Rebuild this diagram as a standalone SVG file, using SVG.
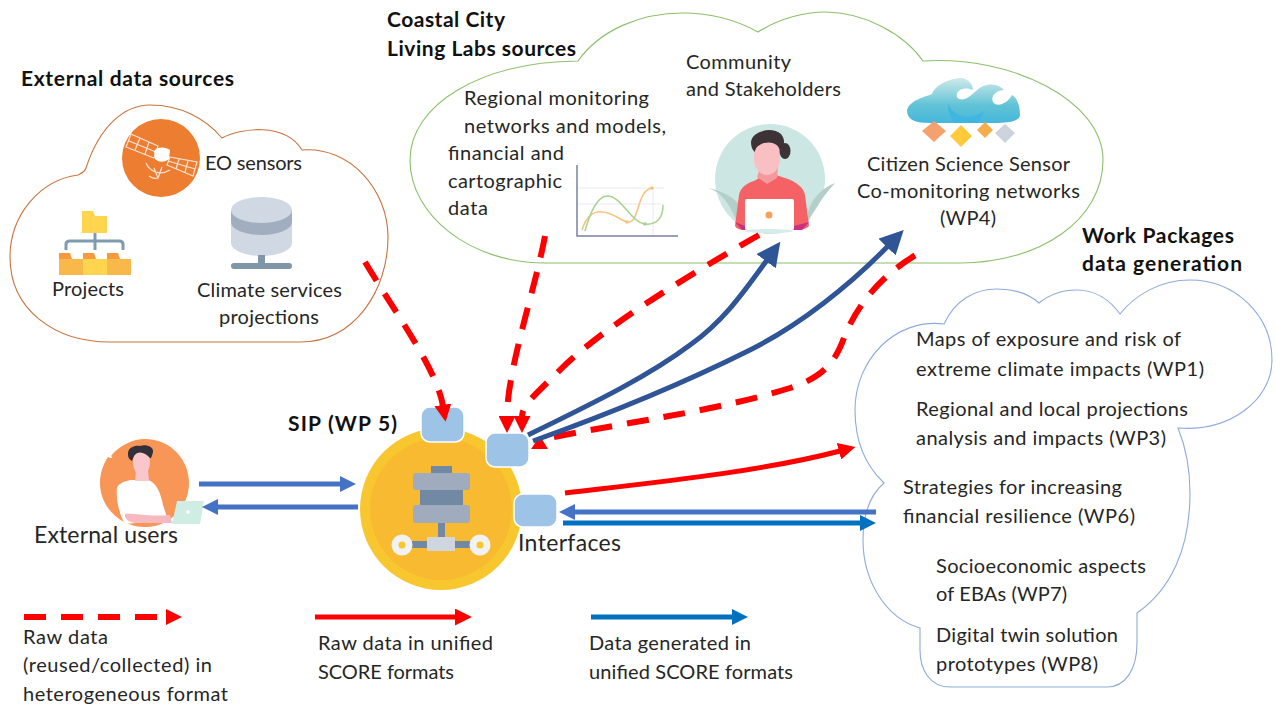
<svg xmlns="http://www.w3.org/2000/svg" width="1276" height="705" viewBox="0 0 1276 705">
<style>
text{font-family:"Lato","Liberation Sans",sans-serif;font-size:20px;fill:#262626}
.b{font-weight:700;fill:#111;font-size:21px}
.l{font-size:23px}
.c{fill:#fff;stroke-width:1.1}
.dash{fill:none;stroke:#f00;stroke-width:6;stroke-dasharray:22 15}
.dk{fill:none;stroke:#2f5597;stroke-width:5}
.bl{fill:none;stroke:#4472c4;stroke-width:5}
.bd{fill:none;stroke:#0070c0;stroke-width:5}
.rd{fill:none;stroke:#f00;stroke-width:5}
.if{fill:#9dc3e6;stroke:#fff;stroke-width:1.5}
</style>
<defs>
<linearGradient id="wave" x1="0" y1="0" x2="0" y2="1"><stop offset="0" stop-color="#cfeaea"/><stop offset="0.6" stop-color="#62c3d6"/><stop offset="1" stop-color="#45b7dc"/></linearGradient>
<marker id="mr" markerUnits="userSpaceOnUse" markerWidth="17" markerHeight="17" viewBox="0 0 16 16" refX="1" refY="8" orient="auto"><path d="M0,0L16,8L0,16Z" fill="#f00"/></marker>
<marker id="mk" markerUnits="userSpaceOnUse" markerWidth="24" markerHeight="24" viewBox="0 0 16 16" refX="1" refY="8" orient="auto"><path d="M0,0L16,8L0,16Z" fill="#2f5597"/></marker>
<marker id="mb" markerUnits="userSpaceOnUse" markerWidth="16" markerHeight="16" viewBox="0 0 16 16" refX="1" refY="8" orient="auto"><path d="M0,0L16,8L0,16Z" fill="#4472c4"/></marker>
<marker id="md" markerUnits="userSpaceOnUse" markerWidth="16" markerHeight="16" viewBox="0 0 16 16" refX="1" refY="8" orient="auto"><path d="M0,0L16,8L0,16Z" fill="#0070c0"/></marker>
</defs>

<g id="external-data-sources">
<path class="c" stroke="#c9733d" d="M86,168C100,125 125,105 150,105C180,105 205,118 222,138C240,128 285,122 302,150C350,146 388,190 388,237C388,290 355,342 300,342L110,342C55,342 10,310 10,257C10,215 40,180 78,175C82,173 85,172 86,168Z"/>
<text class="b" x="21" y="86" textLength="213">External data sources</text>
<circle cx="161" cy="158" r="39" fill="#ed7d31"/>
<g fill="none" stroke="#fbe5d6" stroke-width="1.200">
<path d="M131,134L158,146L154,158L126,147ZM140,138L135,150M149,142L145,154M129,141L156,152"/>
<path d="M170,157L197,162L193,176L167,165ZM179,159L176,169M188,161L185,172M168,161L195,169"/>
<path d="M146,163C150,172 160,176 170,170M154,168L158,178L162,167M149,176C152,178 155,179 157,178"/>
</g>
<path d="M154,151C158,146 166,147 170,150L169,159C164,163 158,162 155,159Z" fill="#fff"/>
<text x="205" y="170" textLength="97">EO sensors</text>
<g>
<path d="M82,211H93L95,216H107V233H82Z" fill="#ffd54f"/>
<path d="M95,233V250M66,250V244Q66,241 70,241H119Q123,241 123,244V250" fill="none" stroke="#7f9bb0" stroke-width="3"/>
<rect x="59" y="259" width="24" height="16" fill="#f9b84a"/><rect x="83" y="259" width="24" height="16" fill="#ffd54f"/><rect x="107" y="259" width="24" height="16" fill="#f9b84a"/>
<path d="M59,253H70L72,259H59ZM83,253H94L96,259H83ZM107,253H118L120,259H107Z" fill="#f79a3e"/>
</g>
<text x="52" y="296" textLength="72">Projects</text>
<g>
<path d="M231,210V243A30.500,13 0 0 0 292,243V210Z" fill="#cfd8e3"/>
<path d="M231,210V222A30.500,13 0 0 0 292,222V210Z" fill="#a0aec0"/>
<ellipse cx="261.500" cy="210" rx="30.500" ry="13" fill="#cfd8e3"/>
<rect x="258" y="255" width="7" height="10" fill="#7f95a8"/><rect x="231" y="263" width="61" height="6" rx="3" fill="#7f95a8"/>
</g>
<text x="197" y="297" textLength="145">Climate services</text>
<text x="219" y="324" textLength="100">projections</text>
</g>

<g id="living-labs">
<path class="c" stroke="#8cc06c" d="M578,61C600,30 640,13 683,13C715,13 740,22 758,32C780,18 805,12 825,12C865,12 905,35 923,61C1010,55 1103,100 1103,160C1103,220 1040,263 960,263L545,263C470,263 410,215 410,160C410,105 480,62 578,61Z"/>
<text class="b" x="387" y="27" textLength="118">Coastal City</text>
<text class="b" x="387" y="56" textLength="189">Living Labs sources</text>
<text x="686" y="69" textLength="105">Community</text>
<text x="686" y="96" textLength="155">and Stakeholders</text>
<text x="464" y="105" textLength="185">Regional monitoring</text>
<text x="464" y="133" textLength="202">networks and models,</text>
<text x="448" y="160" textLength="116">financial and</text>
<text x="448" y="188" textLength="114">cartographic</text>
<text x="448" y="215" textLength="40">data</text>
<g fill="none">
<path d="M577,188H664M577,204H664M653,188V236" stroke="#e8e8f4" stroke-width="1"/>
<path d="M577,165V236H678" stroke="#7b7fa8" stroke-width="1.500"/>
<path d="M582,230C586,216 594,211 602,212C612,212 620,220 627,222C640,225 636,190 652,188" stroke="#f7c27c" stroke-width="1.500"/>
<path d="M585,231C590,212 598,196 607,196C622,196 630,222 645,224C655,225 663,220 663,205" stroke="#a9d18e" stroke-width="1.500"/>
<circle cx="652" cy="188" r="1.800" fill="#f7c27c"/><circle cx="627" cy="222" r="1.800" fill="#f7c27c"/><circle cx="645" cy="224" r="1.800" fill="#a9d18e"/>
</g>
<g>
<circle cx="770" cy="179" r="55" fill="#cce6e3"/>
<path d="M708,188C722,192 730,205 737,222L740,205C732,196 720,190 708,188ZM835,183C822,188 812,198 808,212L808,222C815,208 825,194 835,183Z" fill="#b4cfc9"/>
<path d="M735,226L739,195C741,186 748,183 756,180L767,172L785,178C797,182 804,188 805,195L809,226Q806,230 795,230H745Q737,230 735,226Z" fill="#f46266"/>
<path d="M760,168H778L777,178L767,184L757,177Z" fill="#f49a9c"/>
<path d="M754,140H780V160C780,170 772,175 767,175C760,175 754,168 754,160Z" fill="#f9c0c3"/>
<path d="M751,142C752,131 772,126 781,134C784,138 785,142 783,146L780,150C778,144 772,141 764,143C758,145 755,148 755,152C752,150 751,146 751,142Z" fill="#3d3236"/>
<ellipse cx="785" cy="151" rx="5.500" ry="8" fill="#3d3236"/>
<path d="M735,222L745,226V230H742ZM809,222L794,226V230H802Z" fill="#c9317f"/>
<rect x="745" y="199" width="49" height="31" rx="2" fill="#fff"/>
<circle cx="769" cy="215" r="3.500" fill="#f4a15a"/>
<ellipse cx="769" cy="231" rx="24" ry="2" fill="#d5ece8"/>
</g>
<g>
<path d="M907,110C910,100 925,97 932,94C935,85 950,78 962,78C968,79 973,84 973,90C965,86 955,90 957,97C961,103 970,97 976,91C985,82 998,83 1004,90C997,90 990,96 993,102C997,108 1008,103 1012,95C1018,98 1020,108 1020,115C1020,122 1005,123 995,123H930C915,123 907,120 907,110Z" fill="url(#wave)"/>
<path d="M948,104C955,120 975,120 985,110L978,123H955C950,118 948,110 948,104Z" fill="#3fb6e0"/>
<path d="M934,121L946,131L934,142L922,131Z" fill="#f4a26d"/>
<path d="M961,125L972,136L961,147L950,136Z" fill="#ffc93c"/>
<path d="M985,122L993,130L985,138L977,130Z" fill="#f3ae4b"/>
<path d="M1005,124L1015,133L1005,143L995,133Z" fill="#cdd3dc"/>
</g>
<text x="867" y="171" textLength="203">Citizen Science Sensor</text>
<text x="857" y="198" textLength="223">Co-monitoring networks</text>
<text x="940" y="225" textLength="56">(WP4)</text>
</g>

<g id="work-packages">
<path class="c" stroke="#8faadc" d="M944,324C955,300 975,289 997,289C1015,289 1030,295 1039,303C1050,294 1062,290 1077,290C1095,290 1110,300 1120,314C1135,295 1160,280 1190,280C1235,280 1272,315 1272,360C1272,400 1230,432 1178,428C1187,450 1190,470 1190,493C1190,550 1170,590 1137,613L1137,643C1137,670 1125,687 1107,687H950C930,687 920,670 920,650V628C885,618 863,580 863,540C863,515 870,495 884,483C865,465 855,440 855,410C855,360 895,318 944,324Z"/>
<text class="b" x="1082" y="243" textLength="152">Work Packages</text>
<text class="b" x="1082" y="271" textLength="160">data generation</text>
<text x="916" y="346" textLength="265">Maps of exposure and risk of</text>
<text x="916" y="376" textLength="288">extreme climate impacts (WP1)</text>
<text x="916" y="416" textLength="272">Regional and local projections</text>
<text x="916" y="445" textLength="250">analysis and impacts (WP3)</text>
<text x="903" y="494" textLength="219">Strategies for increasing</text>
<text x="903" y="523" textLength="232">financial resilience (WP6)</text>
<text x="936" y="573" textLength="210">Socioeconomic aspects</text>
<text x="936" y="601" textLength="131">of EBAs (WP7)</text>
<text x="936" y="642" textLength="182">Digital twin solution</text>
<text x="936" y="671" textLength="162">prototypes (WP8)</text>
</g>

<g id="external-users">
<path d="M111,456C120,445 133,439 145,439C170,439 189,459 189,483C189,507 170,527 145,527C120,527 100,507 100,483C100,472 104,463 108,457C112,459 114,458 111,456Z" fill="#f79656"/>
<path d="M117,487C122,480 132,480 136,480H148C155,482 160,490 163,505L168,520L125,524C118,512 116,498 117,487Z" fill="#fff"/>
<path d="M136,470H148L149,481H135Z" fill="#f8c6cb"/>
<ellipse cx="141.500" cy="462" rx="8.500" ry="14" fill="#f8c6cb"/>
<path d="M128,455C127,447 136,445 140,446C145,444 154,446 153,452C152,456 151,459 150,458C145,452 138,450 134,456L132,461C130,460 128,458 128,455Z" fill="#33303a"/>
<path d="M125,514C132,513 150,517 170,515L172,523H135C128,522 124,518 125,514Z" fill="#f8b8c0"/>
<path d="M177,501H204L200,524H172Z" fill="#cfede2"/>
<circle cx="188" cy="512" r="2" fill="#fff"/>
<text class="l" x="34" y="543" textLength="144">External users</text>
</g>

<g id="sip">
<circle cx="441" cy="509" r="81" fill="#f8c72f"/>
<circle cx="441" cy="509" r="71" fill="#f8ba31"/>
<rect x="431" y="466" width="21" height="8" fill="#7189a3"/>
<rect x="420" y="489" width="43" height="18" fill="#7189a3"/>
<rect x="413" y="473" width="57" height="17" rx="3" fill="#a0abbd"/>
<rect x="413" y="505" width="57" height="18" rx="3" fill="#a0abbd"/>
<rect x="438" y="523" width="7" height="16" fill="#7189a3"/>
<rect x="410" y="541" width="63" height="7" fill="#7189a3"/>
<rect x="427" y="537" width="28" height="14" fill="#cfd6df"/>
<circle cx="402" cy="545" r="10.500" fill="#f2f2f2"/><circle cx="402" cy="545" r="3.500" fill="#f8c72f"/>
<circle cx="480" cy="545" r="10.500" fill="#f2f2f2"/><circle cx="480" cy="545" r="3.500" fill="#f8c72f"/>
<text class="b" x="288" y="431" textLength="109">SIP (WP 5)</text>
<text class="l" x="518" y="551" textLength="103">Interfaces</text>
</g>
<g id="interface-top"><rect class="if" x="421" y="407" width="43" height="35" rx="9"/></g>
<g id="interface-middle"><rect class="if" x="486" y="433" width="43" height="34" rx="9"/></g>
<g id="interface-bottom"><rect class="if" x="514" y="494" width="43" height="33" rx="9"/></g>

<g id="connectors">
<path class="dash" marker-end="url(#mr)" d="M365,262C400,320 437,370 443,406"/>
<path class="dash" marker-end="url(#mr)" d="M545,236C535,290 507,370 507,417"/>
<path class="dash" marker-end="url(#mr)" d="M759,235C680,280 600,330 560,370C535,395 522,405 522,417"/>
<path class="dash" d="M554,437C640,420 720,410 790,388C820,378 835,365 845,335C860,300 885,272 921,252"/>
<polygon points="540,436 548,449 531,449" fill="#f00"/>
<path class="dk" marker-end="url(#mk)" d="M528,435C600,400 650,375 690,345C725,320 745,290 767,260"/>
<path class="dk" marker-end="url(#mk)" d="M533,441C620,410 690,380 750,350C800,325 850,285 888,246"/>
<path class="bl" marker-end="url(#mb)" d="M199,484H341"/>
<path class="bl" marker-end="url(#mb)" d="M358,507H217"/>
<path class="rd" marker-end="url(#mr)" d="M565,493C650,483 760,472 840,451"/>
<path class="bl" marker-end="url(#mb)" d="M876,512H574"/>
<path class="bd" marker-end="url(#md)" d="M563,523H861"/>
</g>

<g id="legend">
<path class="dash" d="M24,617H159"/>
<polygon points="166,609 182,617 166,625" fill="#f00"/>
<path class="rd" marker-end="url(#mr)" d="M315,617H456"/>
<path class="bd" marker-end="url(#md)" d="M591,617H733"/>
<text x="23" y="644" textLength="85">Raw data</text>
<text x="23" y="672" textLength="189">(reused/collected) in</text>
<text x="23" y="701" textLength="205">heterogeneous format</text>
<text x="318" y="650" textLength="175">Raw data in unified</text>
<text x="318" y="679" textLength="136">SCORE formats</text>
<text x="589" y="650" textLength="162">Data generated in</text>
<text x="589" y="679" textLength="204">unified SCORE formats</text>
</g>
</svg>
